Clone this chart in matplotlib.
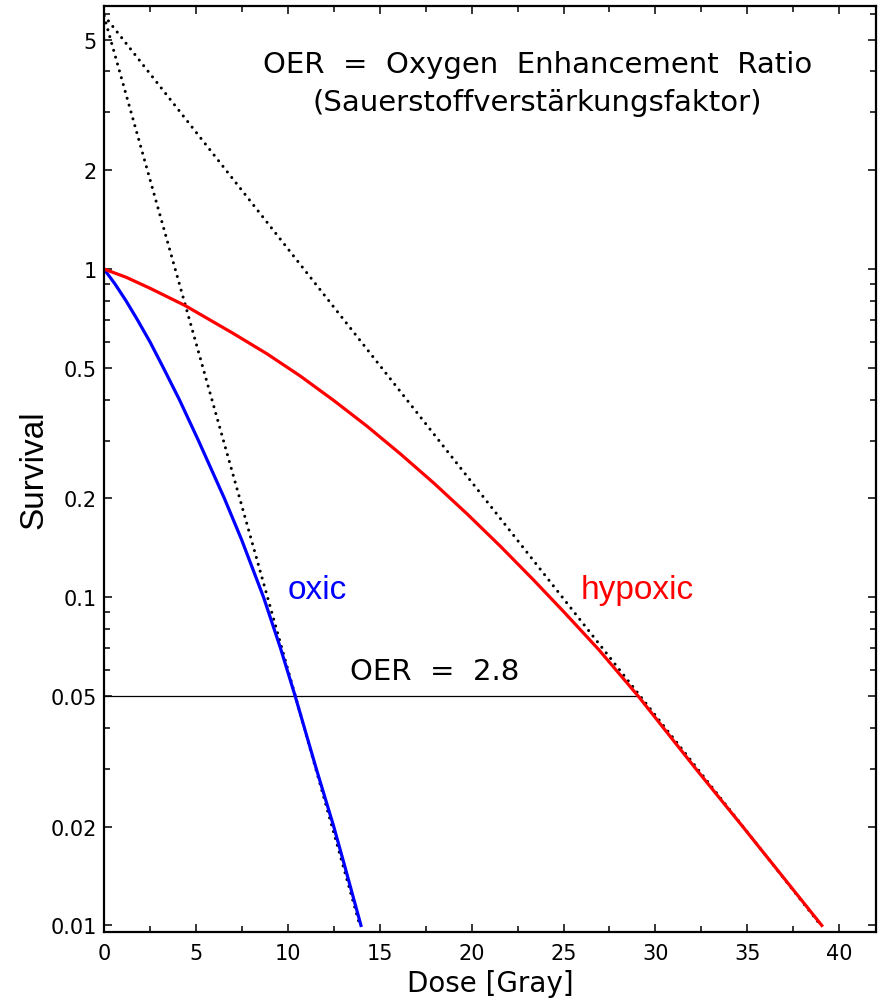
import matplotlib
matplotlib.use('Agg')
import matplotlib.pyplot as plt
from matplotlib.ticker import FixedLocator, NullFormatter

# survival curves, dose in Gy
dose_oxic = [0, 0.6, 1.2, 1.82, 2.5, 3.23, 4.1, 5.14, 6.55, 7.48, 8.68, 9.6, 10.4,
             11.55, 12.5, 13.12, 13.98]
surv_oxic = [1.0, 0.9, 0.8, 0.7, 0.6, 0.5, 0.4, 0.3, 0.2, 0.15, 0.1, 0.07, 0.05,
             0.03, 0.02, 0.015, 0.01]

dose_hypoxic = [0, 1.2, 2.5, 4.41, 7.0, 8.86, 10.68, 12.49, 14.31, 16.12, 17.94,
                19.75, 21.57, 23.38, 25.11, 26.92, 29.06, 32.2, 34.75, 39.05]
surv_hypoxic = [1.0, 0.944, 0.874, 0.774, 0.638, 0.552, 0.472, 0.398, 0.332, 0.2735,
                0.2228, 0.1795, 0.1429, 0.1127, 0.0891, 0.0692, 0.05, 0.03, 0.02, 0.01]

# straight-line asymptotes (extrapolation number ~5.9)
asym_oxic_dose = [0, 13.92]
asym_oxic_surv = [5.9, 0.01]
asym_hyp_dose = [0, 39.0]
asym_hyp_surv = [5.93, 0.01]

# 0.05 survival level, cut at the hypoxic curve
ref_level = 0.05
ref_dose = [0, 29.06]
oer_value = 2.8

yticks = [0.01, 0.02, 0.05, 0.1, 0.2, 0.5, 1, 2, 5]
ytick_labels = ['0.01', '0.02', '0.05', '0.1', '0.2', '0.5', '1', '2', '5']
yminor = [0.03, 0.04, 0.06, 0.07, 0.08, 0.09, 0.3, 0.4, 0.6, 0.7, 0.8, 0.9, 3, 4, 6]
xticks = [0, 5, 10, 15, 20, 25, 30, 35, 40]

fig = plt.figure(figsize=(8.82, 10.04), dpi=100)
ax = fig.add_axes([104/882, 71/1004, 772/882, 926/1004])
ax.set_yscale('log')

dots = dict(color='black', lw=2.2, linestyle=(0, (0.01, 2.32)), dash_capstyle='round')
ax.plot(asym_oxic_dose, asym_oxic_surv, **dots)
ax.plot(asym_hyp_dose, asym_hyp_surv, **dots)
ax.plot(ref_dose, [ref_level, ref_level], color='black', lw=0.9)
ax.plot(dose_oxic, surv_oxic, color='#0000ff', lw=2.3, solid_joinstyle='round')
ax.plot(dose_hypoxic, surv_hypoxic, color='#ff0000', lw=2.3, solid_joinstyle='round')

ax.set_xlim(0, 42)
ax.set_ylim(0.00955, 6.33)

ax.xaxis.set_major_locator(FixedLocator(xticks))
ax.xaxis.set_minor_locator(FixedLocator([x + 2.5 for x in xticks]))
ax.set_xticklabels([str(x) for x in xticks])
ax.yaxis.set_major_locator(FixedLocator(yticks))
ax.yaxis.set_minor_locator(FixedLocator(yminor))
ax.set_yticklabels(ytick_labels)
ax.yaxis.set_minor_formatter(NullFormatter())

ax.tick_params(which='both', direction='in', top=True, right=True, width=1.1,
               labelsize=15, labelfontfamily='DejaVu Sans')
ax.tick_params(which='major', length=6)
ax.tick_params(which='minor', length=4)
ax.tick_params(axis='x', pad=8)
ax.tick_params(axis='y', pad=5)
for s in ax.spines.values():
    s.set_linewidth(1.6)

ax.set_xlabel('Dose [Gray]', fontsize=20, family='DejaVu Sans', labelpad=4)
ax.set_ylabel('Survival', fontsize=24, family='Liberation Sans', labelpad=1)

ax.text(9.97, 0.0994, 'oxic', color='#0000ff', fontsize=24, family='Liberation Sans',
        ha='left', va='baseline')
ax.text(25.93, 0.0994, 'hypoxic', color='#ff0000', fontsize=24, family='Liberation Sans',
        ha='left', va='baseline')
ax.text(18.0, 0.0597, 'OER  =  %.1f' % oer_value, fontsize=21, family='DejaVu Sans',
        ha='center', va='center')

fig.text(0.609, 0.935, 'OER  =  Oxygen  Enhancement  Ratio', fontsize=21,
         family='DejaVu Sans', ha='center', va='center')
fig.text(0.609, 0.897, '(Sauerstoffverstärkungsfaktor)', fontsize=21,
         family='DejaVu Sans', ha='center', va='center')

fig.savefig('out.png', dpi=100)
